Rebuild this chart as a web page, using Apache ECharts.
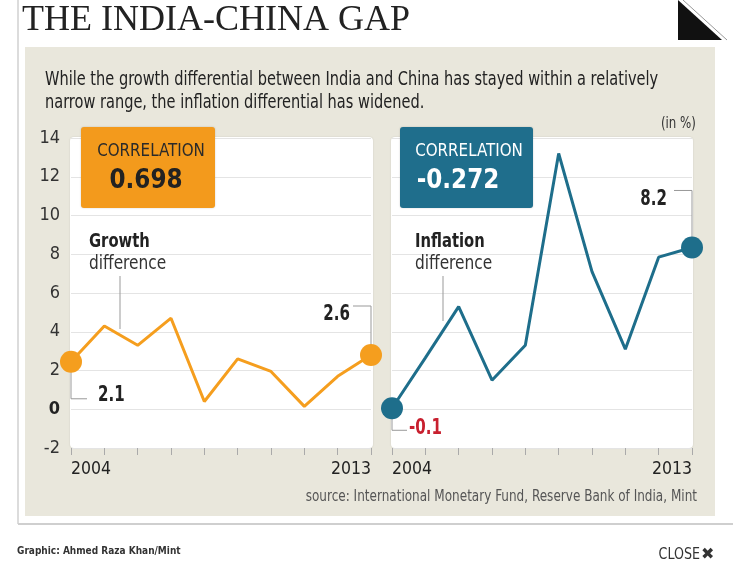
<!DOCTYPE html>
<html><head><meta charset="utf-8">
<script src="https://cdn.jsdelivr.net/npm/echarts@6/dist/echarts.min.js"></script>
<style>html,body{margin:0;padding:0;background:#fff}#c{width:733px;height:570px}</style>
</head><body><div id="c"></div>
<script>
const years = ['2004','2005','2006','2007','2008','2009','2010','2011','2012','2013'];
const growthDiff = [2.45, 4.3, 3.3, 4.7, 0.4, 2.6, 1.95, 0.15, 1.7, 2.8];
const inflationDiff = [0.05, 2.65, 5.3, 1.5, 3.3, 13.2, 7.1, 3.1, 7.85, 8.35];
const yMin = -2, yMax = 14, yStep = 2;
const growthEndLabels = ['2.1', '2.6'];
const inflationEndLabels = ['-0.1', '8.2'];
const correlations = ['0.698', '-0.272'];

const COND = "'DejaVu Sans Condensed','Liberation Sans Narrow','Roboto Condensed',sans-serif";
const ORANGE = '#F59E1E', TEAL = '#1E6E8B', BEIGE = '#E9E7DC';

const chart = echarts.init(document.getElementById('c'), null, {renderer:'canvas'});

function seriesData(arr){
  return arr.map((v,i)=> (i===0||i===arr.length-1) ? {value:v, symbol:'circle', symbolSize:22} : {value:v, symbol:'none'});
}
function xAxis(gi){
  return {type:'category', gridIndex:gi, data:years, boundaryGap:false,
    axisLine:{show:false, onZero:false},
    axisTick:{show:true, interval:0, length:7, lineStyle:{color:'#aaa', width:1}},
    axisLabel:{interval:0, margin:12, fontFamily:COND, fontSize:17.5, color:'#222',
      formatter:(v,i)=> (i===0||i===years.length-1)? v : '',
      alignMinLabel:'left', alignMaxLabel:'right'},
    splitLine:{show:false}};
}
function yAxis(gi, showLabels){
  return {type:'value', gridIndex:gi, min:yMin, max:yMax, interval:yStep,
    axisLine:{show:false}, axisTick:{show:false},
    axisLabel:{show:showLabels, margin:11, fontFamily:COND, fontSize:18, color:'#333',
      formatter:v=> v===0 ? '{b|0}' : String(v), rich:{b:{fontWeight:'bold', fontFamily:COND, fontSize:18, color:'#222'}}},
    splitLine:{show:true, lineStyle:{color:'#e4e4e4', width:1}}};
}

const option = {
  animation:false,
  backgroundColor:'#fff',
  grid:[{left:71, top:138, width:300, height:310},{left:392, top:138, width:300, height:310}],
  xAxis:[xAxis(0), xAxis(1)],
  yAxis:[yAxis(0,true), yAxis(1,false)],
  series:[
    {type:'line', xAxisIndex:0, yAxisIndex:0, data:seriesData(growthDiff), showAllSymbol:true,
      lineStyle:{color:ORANGE, width:3}, itemStyle:{color:ORANGE}, z:5},
    {type:'line', xAxisIndex:1, yAxisIndex:1, data:seriesData(inflationDiff), showAllSymbol:true,
      lineStyle:{color:TEAL, width:3}, itemStyle:{color:TEAL}, z:5}
  ]
};
chart.setOption(option);

function px(gi, i, v){ return chart.convertToPixel({gridIndex:gi}, [i, v]); }
const last = years.length-1;
const g0a = px(0,0,growthDiff[0]), g0b = px(0,last,growthDiff[last]);
const g1a = px(1,0,inflationDiff[0]), g1b = px(1,last,inflationDiff[last]);
const tl0 = px(0,0,yMax), br0 = px(0,last,yMin);
const tl1 = px(1,0,yMax), br1 = px(1,last,yMin);

function txt(x, y, text, size, opts, sx){
  return {type:'text', x:x, y:y, scaleX:sx||1, z:7,
    style:Object.assign({text:text, fontFamily:COND, fontSize:size, fill:'#222', verticalAlign:'middle'}, opts||{})};
}
const lineS = {stroke:'#999', lineWidth:1, fill:null};
const B = {fontWeight:'bold'};
const graphic = [
  {type:'line', shape:{x1:18,y1:0,x2:18,y2:524}, style:{stroke:'#d0d0d0', lineWidth:1.5}, z:-3},
  {type:'line', shape:{x1:18,y1:524,x2:733,y2:524}, style:{stroke:'#cfcfcf', lineWidth:2}, z:-3},
  {type:'rect', shape:{x:25,y:47,width:690,height:469}, style:{fill:BEIGE}, z:-3},
  {type:'rect', shape:{x:tl0[0]-1,y:tl0[1]-1,width:br0[0]-tl0[0]+3,height:br0[1]-tl0[1]+1,r:4}, style:{fill:'#fff', shadowBlur:2, shadowColor:'rgba(0,0,0,0.12)'}, z:-2},
  {type:'rect', shape:{x:tl1[0]-1,y:tl1[1]-1,width:br1[0]-tl1[0]+2,height:br1[1]-tl1[1]+1,r:4}, style:{fill:'#fff', shadowBlur:2, shadowColor:'rgba(0,0,0,0.12)'}, z:-2},
  // title
  {type:'text', x:22, y:3, style:{text:'THE INDIA-CHINA GAP', fontFamily:"'Liberation Serif','DejaVu Serif',serif", fontSize:36, fill:'#222'}},
  {type:'polygon', shape:{points:[[678,0],[678,40],[722,40]]}, style:{fill:'#111'}},
  {type:'line', shape:{x1:683,y1:0,x2:727,y2:40}, style:{stroke:'#999', lineWidth:1}},
  // subtitle
  txt(45, 80, 'While the growth differential between India and China has stayed within a relatively', 20, {}, 0.81),
  txt(45, 103, 'narrow range, the inflation differential has widened.', 20, {}, 0.81),
  txt(696, 124, '(in %)', 15.5, {fill:'#333', align:'right'}, 0.85),
  // correlation boxes
  {type:'rect', shape:{x:81,y:127,width:134,height:81,r:3}, style:{fill:'#F39A1C', shadowBlur:2, shadowColor:'rgba(0,0,0,0.2)'}, z:6},
  txt(151, 151, 'CORRELATION', 17.5, {fill:'#2a2a2a', align:'center'}, 0.96),
  txt(146, 181, correlations[0], 27, {fill:'#222', align:'center', fontWeight:'bold'}, 0.95),
  {type:'rect', shape:{x:400,y:127,width:133,height:81,r:3}, style:{fill:'#1F6E8C', shadowBlur:2, shadowColor:'rgba(0,0,0,0.2)'}, z:6},
  txt(469, 151, 'CORRELATION', 17.5, {fill:'#fff', align:'center'}, 0.96),
  txt(458, 181, correlations[1], 27, {fill:'#fff', align:'center', fontWeight:'bold'}, 0.95),
  // series annotations
  txt(89, 242, 'Growth', 20, B, 0.82),
  txt(89, 264, 'difference', 20, {fill:'#333'}, 0.855),
  {type:'line', shape:{x1:120,y1:276,x2:120,y2:329}, style:lineS, z:7},
  txt(415, 242, 'Inflation', 20, B, 0.82),
  txt(415, 264, 'difference', 20, {fill:'#333'}, 0.855),
  {type:'line', shape:{x1:443,y1:276,x2:443,y2:321}, style:lineS, z:7},
  // end labels with leaders
  {type:'polyline', shape:{points:[[g0a[0],g0a[1]],[g0a[0],g0a[1]+37],[g0a[0]+16,g0a[1]+37]]}, style:lineS, z:4},
  txt(g0a[0]+27, g0a[1]+33, growthEndLabels[0], 22, B, 0.76),
  {type:'polyline', shape:{points:[[g0b[0],g0b[1]],[g0b[0],g0b[1]-49],[g0b[0]-18,g0b[1]-49]]}, style:lineS, z:4},
  txt(g0b[0]-21, g0b[1]-41, growthEndLabels[1], 22, {fontWeight:'bold', align:'right'}, 0.76),
  {type:'polyline', shape:{points:[[g1a[0],g1a[1]],[g1a[0],g1a[1]+22],[g1a[0]+15,g1a[1]+22]]}, style:lineS, z:4},
  txt(g1a[0]+17, g1a[1]+20, inflationEndLabels[0], 22, {fontWeight:'bold', fill:'#C8202F'}, 0.76),
  {type:'polyline', shape:{points:[[g1b[0],g1b[1]],[g1b[0],g1b[1]-57],[g1b[0]-18,g1b[1]-57]]}, style:lineS, z:4},
  txt(g1b[0]-25, g1b[1]-48, inflationEndLabels[1], 22, {fontWeight:'bold', align:'right'}, 0.76),
  // source & footer
  txt(697, 497, 'source: International Monetary Fund, Reserve Bank of India, Mint', 15, {fill:'#555', align:'right'}, 0.893),
  txt(17, 551, 'Graphic: Ahmed Raza Khan/Mint', 10, {fontWeight:'bold', fill:'#333'}),
  txt(700, 555, 'CLOSE', 16, {fill:'#333', align:'right'}, 0.88),
  {type:'text', x:701, y:555, style:{text:'\u2716', fontFamily:"'DejaVu Sans',sans-serif", fontSize:16, fill:'#333', verticalAlign:'middle'}}
];
chart.setOption({graphic:graphic});
</script></body></html>
